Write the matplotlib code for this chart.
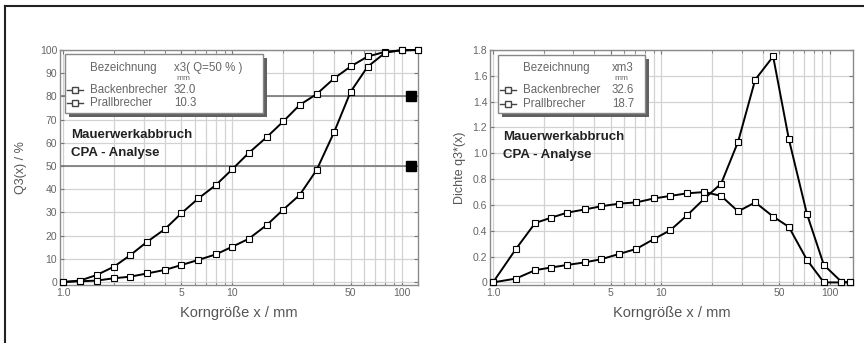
import matplotlib
matplotlib.use("Agg")
import matplotlib.pyplot as plt
from matplotlib.patches import Rectangle
from matplotlib.lines import Line2D
import numpy as np

plt.rcParams['font.family'] = ['Liberation Sans', 'DejaVu Sans']

# ---------------- data ----------------
x_sum = [1.0, 1.26, 1.58, 2.0, 2.5, 3.15, 4.0, 5.0, 6.3, 8.0, 10.0, 12.5, 16.0, 20.0,
         25.0, 31.5, 40.0, 50.0, 63.0, 80.0, 100.0, 125.0]
q3_backen = [0, 0.3, 0.6, 1.6, 2.3, 3.7, 5.2, 7.3, 9.5, 11.9, 15.2, 18.6, 24.6, 31.2,
             37.5, 48.3, 64.7, 82.0, 92.8, 98.8, 100, 100]
q3_prall = [0, 0.6, 3.0, 6.6, 11.6, 17.4, 22.8, 29.6, 36.0, 41.8, 48.6, 55.6, 62.5, 69.2,
            76.3, 81.0, 87.8, 92.9, 97.2, 99.2, 99.8, 100]
ref_x = [113, 113]
ref_y = [80, 50]

x_dens = [1.0, 1.37, 1.78, 2.2, 2.75, 3.5, 4.4, 5.6, 7.1, 9.0, 11.3, 14.2, 18.0, 22.6,
          28.5, 36.0, 46.0, 57.0, 73.0, 92.0, 117.0, 131.0]
d_backen = [0, 0.03, 0.095, 0.115, 0.135, 0.155, 0.18, 0.22, 0.26, 0.335, 0.405, 0.52,
            0.65, 0.765, 1.09, 1.57, 1.75, 1.11, 0.53, 0.135, 0.005, 0.0]
d_prall = [0, 0.26, 0.46, 0.50, 0.54, 0.565, 0.59, 0.61, 0.62, 0.65, 0.67, 0.69, 0.70,
           0.67, 0.55, 0.62, 0.51, 0.43, 0.175, 0.0, 0.0, 0.0]

xticks = [1, 5, 10, 50, 100]
xticklabels = ['1.0', '5', '10', '50', '100']
yticks_left = [0, 10, 20, 30, 40, 50, 60, 70, 80, 90, 100]
yticks_right = [0, 0.2, 0.4, 0.6, 0.8, 1.0, 1.2, 1.4, 1.6, 1.8]
yticklabels_right = ['0', '0.2', '0.4', '0.6', '0.8', '1.0', '1.2', '1.4', '1.6', '1.8']

series_names = ['Backenbrecher', 'Prallbrecher']
left_vals = ['32.0', '10.3']
right_vals = ['32.6', '18.7']

# ---------------- figure ----------------
W, H = 864, 343
fig = plt.figure(figsize=(W / 100, H / 100), dpi=100)
fig.patch.set_facecolor('white')


def fx(px):
    return px / W


def fy(py):
    return 1 - py / H


# page border (top and left)
fig.add_artist(Line2D([fx(5), 1], [fy(6), fy(6)], color='#222222', lw=1.5, transform=fig.transFigure))
fig.add_artist(Line2D([fx(5), fx(5)], [fy(6), 0], color='#222222', lw=1.5, transform=fig.transFigure))

ax1 = fig.add_axes([fx(60), fy(285), fx(418) - fx(60), fy(50) - fy(285)])
ax2 = fig.add_axes([fx(490), fy(285), fx(853) - fx(490), fy(50) - fy(285)])

tick_col = '#666666'
for ax in (ax1, ax2):
    ax.set_xscale('log')
    ax.set_xticks(xticks)
    ax.set_xticklabels(xticklabels)
    ax.xaxis.set_minor_locator(matplotlib.ticker.LogLocator(base=10, subs=np.arange(2, 10)))
    ax.xaxis.set_minor_formatter(matplotlib.ticker.NullFormatter())
    ax.tick_params(which='both', direction='in', top=True, right=True, colors='#777777',
                   labelcolor=tick_col, labelsize=7.5, length=3, pad=2)
    ax.tick_params(which='minor', length=2)
    ax.grid(True, which='both', axis='x', color='#d2d2d2', lw=0.9)
    ax.grid(True, which='major', axis='y', color='#d2d2d2', lw=0.9)
    for s in ax.spines.values():
        s.set_color('#8a8a8a')
        s.set_linewidth(1.0)
    ax.set_axisbelow(True)
    ax.set_xlabel('Korngröße x / mm', fontsize=10.5, color='#555555', labelpad=6)

mk = dict(marker='s', markersize=3.8, markerfacecolor='white', markeredgecolor='black',
          markeredgewidth=0.8, color='black', lw=1.4)

# left plot
ax1.set_xlim(0.96, 125)
ax1.set_ylim(-1.3, 100)
ax1.set_yticks(yticks_left)
ax1.set_yticklabels([str(v) for v in yticks_left])
ax1.axhline(80, color='#777777', lw=1.2, zorder=1)
ax1.axhline(50, color='#777777', lw=1.2, zorder=1)
ax1.plot(x_sum, q3_prall, clip_on=False, zorder=3, **mk)
ax1.plot(x_sum, q3_backen, clip_on=False, zorder=3, **mk)
ax1.plot(ref_x, ref_y, ls='none', marker='s', markersize=6.5, color='black', zorder=4)
ax1.set_ylabel('Q3(x) / %', fontsize=9, color='#555555', labelpad=9)

# right plot
ax2.set_xlim(0.96, 137)
ax2.set_ylim(-0.02, 1.8)
ax2.set_yticks(yticks_right)
ax2.set_yticklabels(yticklabels_right)
ax2.plot(x_dens, d_prall, clip_on=False, zorder=3, **mk)
ax2.plot(x_dens, d_backen, clip_on=False, zorder=3, **mk)
ax2.set_ylabel('Dichte q3*(x)', fontsize=9, color='#555555', labelpad=5)


def legend_box(x0, y0, x1, y1, head_x, head_val, val_x, vals, name_x, row_y):
    # shadow
    fig.add_artist(Rectangle((fx(x0 + 4), fy(y1 + 4)), fx(x1 - x0), fy(y0) - fy(y1),
                             transform=fig.transFigure, facecolor='#606060',
                             edgecolor='none', zorder=5))
    fig.add_artist(Rectangle((fx(x0), fy(y1)), fx(x1 - x0), fy(y0) - fy(y1),
                             transform=fig.transFigure, facecolor='white',
                             edgecolor='#888888', lw=1.0, zorder=6))
    tc = '#666666'
    fig.text(fx(head_x), fy(68), 'Bezeichnung', fontsize=8.3, color=tc, va='center', zorder=7)
    fig.text(fx(val_x), fy(68), head_val, fontsize=8.3, color=tc, va='center', zorder=7)
    fig.text(fx(val_x + 2), fy(79), 'mm', fontsize=6, color=tc, va='center', zorder=7)
    for i, (nm, v) in enumerate(zip(series_names, vals)):
        yy = row_y[i]
        fig.add_artist(Line2D([fx(x0 + 2), fx(x0 + 18)], [fy(yy), fy(yy)], transform=fig.transFigure,
                              color='#444444', lw=1.0, zorder=7))
        fig.add_artist(Line2D([fx(x0 + 10)], [fy(yy)], transform=fig.transFigure, ls='none',
                              marker='s', markersize=3.8, markerfacecolor='white',
                              markeredgecolor='#444444', zorder=8))
        fig.text(fx(name_x), fy(yy), nm, fontsize=8.3, color=tc, va='center', zorder=7)
        fig.text(fx(val_x), fy(yy), v, fontsize=8.3, color=tc, va='center', zorder=7)


legend_box(65, 54, 263, 113, 90, 'x3( Q=50 % )', 174, left_vals, 90, [90, 103])
legend_box(498, 55, 645, 113, 523, 'xm3', 612, right_vals, 523, [90, 104])

for (px, py) in [(71, 135), (503, 137)]:
    fig.text(fx(px), fy(py), 'Mauerwerkabbruch', fontsize=9.5, fontweight='bold',
             color='#222222', va='center', zorder=7)
    fig.text(fx(px), fy(py + 18), 'CPA - Analyse', fontsize=9.5, fontweight='bold',
             color='#222222', va='center', zorder=7)

fig.savefig('out.png', dpi=100, facecolor='white')
